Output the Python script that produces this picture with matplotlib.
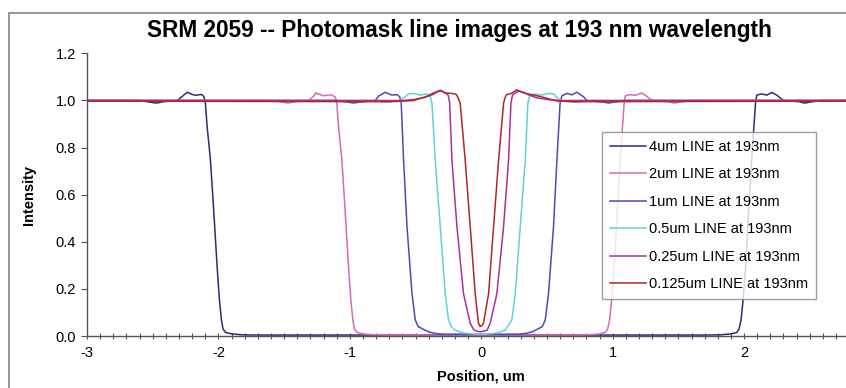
import matplotlib
matplotlib.use("Agg")
import matplotlib.pyplot as plt
from matplotlib.patches import Rectangle
from matplotlib.ticker import MultipleLocator, FormatStrFormatter

plt.rcParams["font.family"] = ["Liberation Sans", "DejaVu Sans"]
plt.rcParams["axes.unicode_minus"] = False

# ---- intensity profiles (position in um, normalised intensity) ----
line_4um_x = [-3.0, -2.60, -2.52, -2.47, -2.42, -2.314, -2.276, -2.238, -2.20, -2.175, -2.131,
              -2.112, -2.100, -2.086, -2.061, -2.036, -2.010, -1.992, -1.977, -1.965, -1.945,
              -1.90, -1.82, -1.70, 0.0, 1.70, 1.82, 1.90, 1.945, 1.962, 1.977, 1.992, 2.012,
              2.035, 2.058, 2.075, 2.088, 2.097, 2.135, 2.173, 2.211, 2.249, 2.287, 2.312,
              2.42, 2.46, 2.50, 2.58, 3.0]
line_4um_y = [1.0, 1.0, 0.993, 0.989, 0.995, 1.0, 1.017, 1.035, 1.026, 1.022, 1.026,
              1.018, 0.995, 0.89, 0.75, 0.535, 0.295, 0.15, 0.068, 0.03, 0.015,
              0.009, 0.005, 0.004, 0.004, 0.004, 0.005, 0.009, 0.015, 0.03, 0.068, 0.15, 0.295,
              0.535, 0.75, 0.89, 0.995, 1.023, 1.028, 1.023, 1.034, 1.023, 1.005, 1.0,
              0.995, 0.989, 0.993, 1.0, 1.0]

line_2um_x = [-3.0, -1.60, -1.52, -1.47, -1.42, -1.314, -1.276, -1.26, -1.20, -1.175, -1.14,
              -1.112, -1.100, -1.086, -1.061, -1.036, -1.010, -0.992, -0.977, -0.965, -0.945,
              -0.90, -0.82, -0.70, 0.0, 0.70, 0.82, 0.90, 0.945, 0.962, 0.977, 0.992, 1.012,
              1.035, 1.058, 1.075, 1.088, 1.097, 1.135, 1.173, 1.22, 1.255, 1.287, 1.312,
              1.42, 1.47, 1.52, 1.60, 3.0]
line_2um_y = [1.0, 1.0, 0.994, 0.989, 0.995, 1.0, 1.018, 1.032, 1.02, 1.022, 1.024,
              1.015, 0.995, 0.89, 0.75, 0.535, 0.295, 0.15, 0.068, 0.03, 0.015,
              0.009, 0.005, 0.004, 0.004, 0.004, 0.005, 0.009, 0.015, 0.03, 0.068, 0.15, 0.295,
              0.535, 0.75, 0.89, 0.995, 1.02, 1.025, 1.022, 1.032, 1.02, 1.005, 1.0,
              0.995, 0.989, 0.994, 1.0, 1.0]

line_1um_x = [-3.0, -1.10, -1.00, -0.97, -0.93, -0.806, -0.781, -0.73, -0.679, -0.641, -0.621,
              -0.609, -0.591, -0.565, -0.527, -0.502, -0.48, -0.439, -0.40, -0.363, -0.30,
              0.0, 0.29, 0.348, 0.39, 0.424, 0.465, 0.487, 0.512, 0.55, 0.576, 0.600, 0.614,
              0.652, 0.69, 0.728, 0.778, 0.804, 0.93, 0.97, 1.00, 1.10, 3.0]
line_1um_y = [1.0, 1.0, 0.992, 0.989, 0.993, 1.0, 1.019, 1.035, 1.023, 1.025, 1.016,
              0.99, 0.747, 0.465, 0.18, 0.068, 0.04, 0.028, 0.018, 0.012, 0.008,
              0.007, 0.008, 0.012, 0.018, 0.028, 0.04, 0.068, 0.18, 0.465, 0.747, 0.99, 1.02,
              1.03, 1.024, 1.035, 1.016, 1.0, 0.993, 0.989, 0.992, 1.0, 1.0]

line_05um_x = [-3.0, -0.80, -0.74, -0.70, -0.62, -0.59, -0.553, -0.515, -0.464, -0.413, -0.388,
               -0.375, -0.35, -0.312, -0.274, -0.249, -0.225, -0.198, -0.16, -0.109, -0.05,
               0.0, 0.04, 0.094, 0.14, 0.183, 0.233, 0.259, 0.297, 0.335, 0.355, 0.37, 0.41,
               0.46, 0.51, 0.55, 0.58, 0.61, 0.70, 0.74, 0.80, 3.0]
line_05um_y = [1.0, 1.0, 0.993, 0.994, 1.0, 1.01, 1.028, 1.03, 1.023, 1.028, 1.016,
               0.99, 0.747, 0.465, 0.18, 0.068, 0.038, 0.025, 0.016, 0.011, 0.008,
               0.007, 0.008, 0.011, 0.016, 0.025, 0.068, 0.18, 0.465, 0.747, 0.99, 1.023,
               1.028, 1.023, 1.03, 1.028, 1.01, 1.0, 0.994, 0.993, 1.0, 1.0]

line_025um_x = [-3.0, -0.60, -0.50, -0.42, -0.37, -0.33, -0.30, -0.27, -0.252, -0.240, -0.223,
                -0.185, -0.135, -0.084, -0.055, -0.03, -0.008, 0.015, 0.045, 0.068, 0.119,
                0.17, 0.208, 0.226, 0.238, 0.255, 0.285, 0.32, 0.36, 0.42, 0.50, 0.60, 3.0]
line_025um_y = [1.0, 1.0, 1.005, 1.015, 1.025, 1.038, 1.04, 1.03, 1.023, 0.99, 0.747,
                0.465, 0.18, 0.054, 0.025, 0.02, 0.018, 0.02, 0.025, 0.054, 0.18,
                0.465, 0.747, 0.99, 1.023, 1.03, 1.04, 1.035, 1.024, 1.012, 1.004, 1.0, 1.0]

line_0125um_x = [-3.0, -0.70, -0.60, -0.515, -0.426, -0.363, -0.312, -0.274, -0.223, -0.19, -0.175,
                 -0.16, -0.122, -0.084, -0.046, -0.021, -0.008, 0.005, 0.017, 0.056, 0.094,
                 0.132, 0.17, 0.183, 0.195, 0.23, 0.27, 0.32, 0.38, 0.45, 0.575, 0.70, 3.0]
line_0125um_y = [0.997, 0.995, 0.997, 1.0, 1.015, 1.032, 1.043, 1.032, 1.03, 1.026, 1.01,
                 0.988, 0.747, 0.465, 0.18, 0.054, 0.04, 0.045, 0.054, 0.18, 0.465,
                 0.747, 0.988, 1.015, 1.026, 1.03, 1.045, 1.033, 1.025, 1.017, 0.998, 0.995, 0.997]

series_labels = ["4um LINE at 193nm", "2um LINE at 193nm", "1um LINE at 193nm",
                 "0.5um LINE at 193nm", "0.25um LINE at 193nm", "0.125um LINE at 193nm"]
series_colors = ["#2c2c72", "#d56bb4", "#4b4bb4", "#62d0d8", "#a8309e", "#a82a2a"]

xs = [line_4um_x, line_2um_x, line_1um_x, line_05um_x, line_025um_x, line_0125um_x]
ys = [line_4um_y, line_2um_y, line_1um_y, line_05um_y, line_025um_y, line_0125um_y]

W, H = 846, 388
fig = plt.figure(figsize=(W / 100, H / 100), dpi=100)
fig.patch.set_facecolor("white")

# chart frame
fig.patches.append(Rectangle((8.5 / W, -0.2), 1.5, 1.2 - 12.5 / H,
                             transform=fig.transFigure, fill=False,
                             edgecolor="#858585", linewidth=1.2))

x_lo, x_hi = -3.0, (W - 481) / 131.5
ax = fig.add_axes([87 / W, 52 / H, 1 - 87 / W, (336 - 53.4) / H])
for xv, yv, c, lab in zip(xs, ys, series_colors, series_labels):
    ax.plot(xv, yv, color=c, linewidth=1.1, label=lab)

ax.set_xlim(x_lo, x_hi)
ax.set_ylim(0, 1.2)
ax.spines["top"].set_visible(False)
ax.spines["right"].set_visible(False)
for s in ("left", "bottom"):
    ax.spines[s].set_color("#555555")
    ax.spines[s].set_linewidth(1.0)

ax.xaxis.set_major_locator(MultipleLocator(1))
ax.xaxis.set_minor_locator(MultipleLocator(0.1))
ax.yaxis.set_major_locator(MultipleLocator(0.2))
ax.yaxis.set_major_formatter(FormatStrFormatter("%.1f"))
ax.xaxis.set_major_formatter(FormatStrFormatter("%d"))
ax.tick_params(axis="x", which="both", direction="inout", length=5, width=0.8,
               color="#555555", labelsize=10.5, pad=5)
ax.tick_params(axis="y", which="major", direction="out", length=4, width=0.8,
               color="#555555", labelsize=10.5, pad=4)

ax.set_xlabel("Position, um", fontsize=10.5, fontweight="bold")
ax.xaxis.set_label_coords((0 - x_lo) / (x_hi - x_lo), -0.12)
ax.set_ylabel("Intensity", fontsize=10.5, fontweight="bold")
ax.yaxis.set_label_coords(-0.067, 0.5)

fig.text(459 / W, 1 - 30 / H, "SRM 2059 -- Photomask line images at 193 nm wavelength",
         ha="center", va="center", fontsize=16.3, fontweight="bold")

leg = ax.legend(loc="upper left", bbox_to_anchor=(602 / W, 1 - 132 / H),
                bbox_transform=fig.transFigure, fontsize=10.5, frameon=True,
                fancybox=False, edgecolor="#888888", handlelength=2.45,
                handletextpad=0.2, labelspacing=0.92, borderpad=0.55,
                borderaxespad=0)
leg.get_frame().set_linewidth(1.0)

fig.savefig("out.png", dpi=100)
